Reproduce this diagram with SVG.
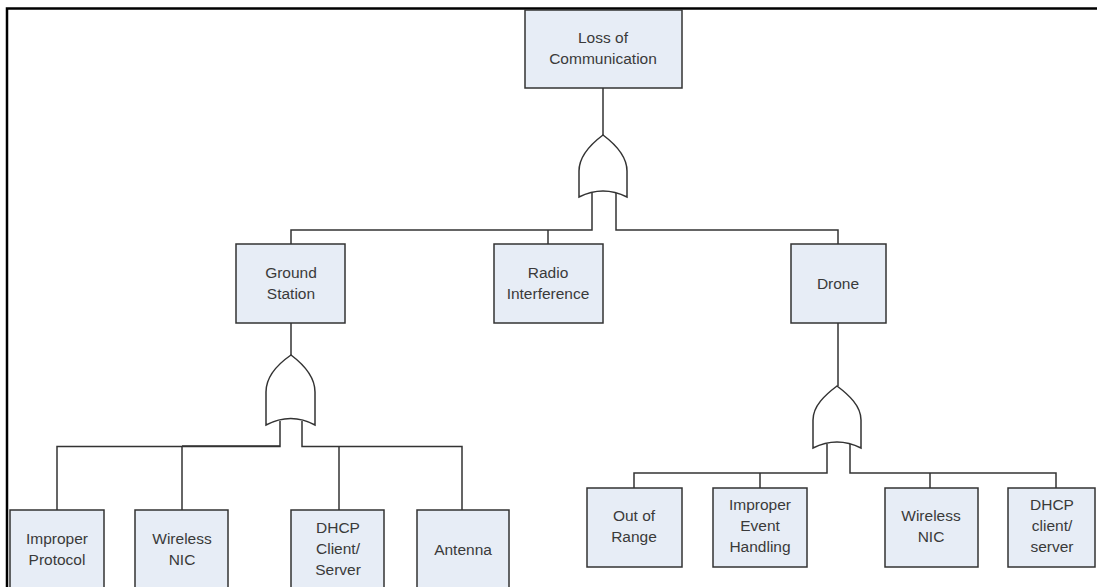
<svg xmlns="http://www.w3.org/2000/svg" width="1097" height="587" viewBox="0 0 1097 587">
<style>
.box{fill:#e7edf6;stroke:#333;stroke-width:1.5}
.ln{fill:none;stroke:#333;stroke-width:1.5}
.gate{fill:#fff;stroke:#333;stroke-width:1.5;stroke-linejoin:miter}
text{font-family:"Liberation Sans",Arial,sans-serif;font-size:15.5px;fill:#3a3a3a;text-anchor:middle}
</style>
<rect width="1097" height="587" fill="#fff"/>
<g id="frame"><path d="M7,587 V8.5 H1097" fill="none" stroke="#000" stroke-width="2.5"/></g>
<g id="connectors">
<path class="ln" d="M603,88 V135"/>
<path class="ln" d="M592,193 V230 H291 V244"/>
<path class="ln" d="M548,230 V244"/>
<path class="ln" d="M616,193 V230 H838 V244"/>
<path class="ln" d="M291,323 V355"/>
<path class="ln" d="M280,421 V446.5 H57 V510"/>
<path class="ln" d="M182,446.5 V510"/>
<path class="ln" d="M182,446 H280" stroke-width="2.5"/>
<path class="ln" d="M302,421 V446.5 H462 V510"/>
<path class="ln" d="M339,446.5 V510"/>
<path class="ln" d="M838,323 V386"/>
<path class="ln" d="M827,444 V473 H634 V488"/>
<path class="ln" d="M760,473 V488"/>
<path class="ln" d="M850,444 V473 H1056 V488"/>
<path class="ln" d="M930,473 V488"/>
</g>
<g id="gate-top"><path class="gate" d="M603,135 C591,144 579,156 579,171 V197 Q603,185 627,197 V171 C627,156 615,144 603,135 Z"/></g>
<g id="gate-ground"><path class="gate" d="M291,355 C278,364 266,376 266,392 V425 Q291,412 315,425 V392 C315,376 303,364 291,355 Z"/></g>
<g id="gate-drone"><path class="gate" d="M837,386 C825,395 813,406 813,420 V448 Q837,436 861,448 V420 C861,406 849,395 837,386 Z"/></g>
<g id="loss"><rect class="box" x="525" y="10" width="157" height="78"/><text x="603" y="43">Loss of</text><text x="603" y="64">Communication</text></g>
<g id="ground"><rect class="box" x="236" y="244" width="109" height="79"/><text x="291" y="278">Ground</text><text x="291" y="299">Station</text></g>
<g id="radio"><rect class="box" x="494" y="244" width="109" height="79"/><text x="548" y="278">Radio</text><text x="548" y="299">Interference</text></g>
<g id="drone"><rect class="box" x="791" y="244" width="95" height="79"/><text x="838" y="289">Drone</text></g>
<g id="improper-protocol"><rect class="box" x="10" y="510" width="94" height="90"/><text x="57" y="544">Improper</text><text x="57" y="565">Protocol</text></g>
<g id="wireless-nic-g"><rect class="box" x="135" y="510" width="93" height="90"/><text x="182" y="544">Wireless</text><text x="182" y="565">NIC</text></g>
<g id="dhcp-g"><rect class="box" x="291" y="510" width="93" height="90"/><text x="338" y="533">DHCP</text><text x="338" y="554">Client/</text><text x="338" y="575">Server</text></g>
<g id="antenna"><rect class="box" x="417" y="510" width="92" height="90"/><text x="463" y="555">Antenna</text></g>
<g id="out-of-range"><rect class="box" x="587" y="488" width="95" height="79"/><text x="634" y="521">Out of</text><text x="634" y="542">Range</text></g>
<g id="improper-event"><rect class="box" x="713" y="488" width="94" height="79"/><text x="760" y="510">Improper</text><text x="760" y="531">Event</text><text x="760" y="552">Handling</text></g>
<g id="wireless-nic-d"><rect class="box" x="885" y="488" width="93" height="79"/><text x="931" y="521">Wireless</text><text x="931" y="542">NIC</text></g>
<g id="dhcp-d"><rect class="box" x="1008" y="488" width="87" height="79"/><text x="1052" y="510">DHCP</text><text x="1052" y="531">client/</text><text x="1052" y="552">server</text></g>
</svg>
